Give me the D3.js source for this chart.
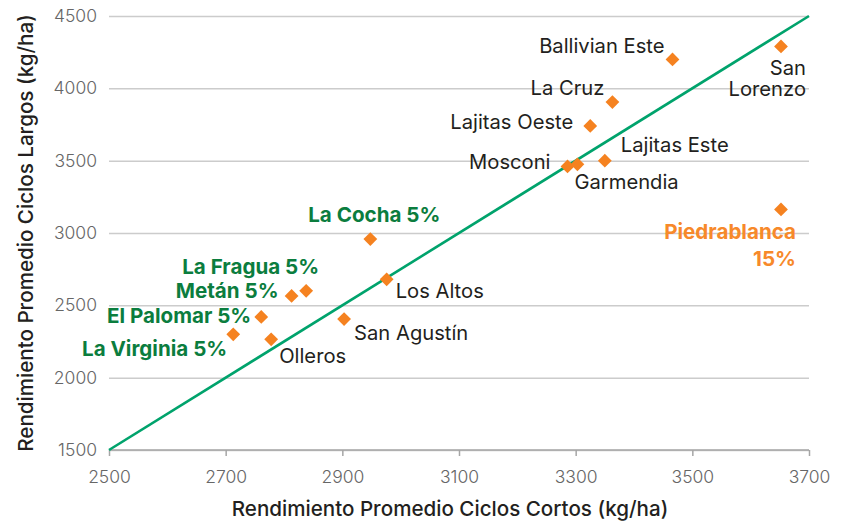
<!DOCTYPE html>
<html>
<head>
<meta charset="utf-8">
<script src="https://cdn.jsdelivr.net/npm/d3@7"></script>
<style>
  html, body { margin: 0; padding: 0; background: #ffffff; }
  svg { display: block; }
  text { font-family: Inter, "Liberation Sans", Arial, sans-serif; }
</style>
</head>
<body>
<svg id="chart" width="844" height="524"></svg>
<script>
// ---- data ----
const sites = ["Ballivian Este", "San Lorenzo", "La Cruz", "Lajitas Oeste", "Lajitas Este",
  "Mosconi", "Garmendia", "Piedrablanca", "La Cocha", "Los Altos", "San Agustín",
  "Metán", "La Fragua", "El Palomar", "La Virginia", "Olleros"];
const cortos = [3466, 3652, 3363, 3325, 3350, 3286, 3303, 3652, 2948, 2976, 2903, 2813, 2838, 2761, 2713, 2778];
const largos = [4200, 4290, 3905, 3740, 3500, 3460, 3475, 3163, 2958, 2680, 2405, 2565, 2600, 2420, 2300, 2265];
const labelLines = [["Ballivian Este"], ["San", "Lorenzo"], ["La Cruz"], ["Lajitas Oeste"], ["Lajitas Este"],
  ["Mosconi"], ["Garmendia"], ["Piedrablanca", "15%"], ["La Cocha 5%"], ["Los Altos"], ["San Agustín"],
  ["Metán 5%"], ["La Fragua 5%"], ["El Palomar 5%"], ["La Virginia 5%"], ["Olleros"]];
const labelKind = ["plain", "plain", "plain", "plain", "plain", "plain", "plain", "orange", "green", "plain", "plain",
  "green", "green", "green", "green", "plain"];
const refLine = [[2500, 1500], [3700, 4500]];
const xTicks = [2500, 2700, 2900, 3100, 3300, 3500, 3700];
const yTicks = [1500, 2000, 2500, 3000, 3500, 4000, 4500];
const xTitle = "Rendimiento Promedio Ciclos Cortos (kg/ha)";
const yTitle = "Rendimiento Promedio Ciclos Largos (kg/ha)";

// ---- label placement (pixels relative to point) ----
const labelPlace = {
  "Ballivian Este": { dx: -8, dy: -6, anchor: "end" },
  "San Lorenzo": { dx: 25, dy: 29, anchor: "end" },
  "La Cruz": { dx: -8, dy: -7, anchor: "end" },
  "Lajitas Oeste": { dx: -17, dy: 3, anchor: "end" },
  "Lajitas Este": { dx: 16, dy: -9, anchor: "start" },
  "Mosconi": { dx: -17, dy: 3, anchor: "end" },
  "Garmendia": { dx: -3, dy: 25, anchor: "start" },
  "Piedrablanca": { dx: 15, dy: 30, anchor: "end" },
  "La Cocha": { dx: 4, dy: -17, anchor: "middle" },
  "Los Altos": { dx: 9, dy: 19, anchor: "start" },
  "San Agustín": { dx: 10, dy: 21, anchor: "start" },
  "Metán": { dx: -13, dy: 2, anchor: "end" },
  "La Fragua": { dx: 13, dy: -17, anchor: "end" },
  "El Palomar": { dx: -10, dy: 6, anchor: "end" },
  "La Virginia": { dx: -6, dy: 22, anchor: "end" },
  "Olleros": { dx: 8, dy: 24, anchor: "start" }
};

(function draw() {
  const svg = d3.select("#chart");
  const W = 844, H = 524;
  const mLeft = 109, mRight = 809, mTop = 16, mBottom = 450;
  const tickFont = "Inter, 'Liberation Sans', Arial, sans-serif";

  svg.append("rect").attr("width", W).attr("height", H).attr("fill", "#ffffff");

  const x = d3.scaleLinear().domain([2500, 3700]).range([mLeft, mRight]);
  const y = d3.scaleLinear().domain([1500, 4500]).range([mBottom, mTop]);

  // horizontal gridlines + y labels
  const yAxis = d3.axisLeft(y).tickValues(yTicks).tickSize(-(mRight - mLeft)).tickPadding(12).tickFormat(d3.format("d"));
  const gy = svg.append("g").attr("transform", `translate(${mLeft},0)`).call(yAxis);
  gy.select(".domain").remove();
  gy.selectAll(".tick line").attr("stroke", "#cccccc").attr("stroke-width", 1.5);
  gy.selectAll(".tick text")
    .attr("fill", "#666666").attr("font-size", 17.5).attr("font-weight", 300).attr("font-family", tickFont);

  // bottom axis
  const xAxis = d3.axisBottom(x).tickValues(xTicks).tickSize(6).tickPadding(15).tickFormat(d3.format("d"));
  const gx = svg.append("g").attr("transform", `translate(0,${mBottom})`).call(xAxis);
  gx.select(".domain").attr("stroke", "#a6a6a6").attr("stroke-width", 1.5).attr("d", `M${mLeft},0H${mRight}`);
  gx.selectAll(".tick line").attr("stroke", "#a6a6a6").attr("stroke-width", 1.5);
  gx.selectAll(".tick text")
    .attr("fill", "#666666").attr("font-size", 17.5).attr("font-weight", 300).attr("font-family", tickFont);

  // reference line
  svg.append("path")
    .datum(refLine)
    .attr("fill", "none")
    .attr("stroke", "#00a36c")
    .attr("stroke-width", 2.6)
    .attr("d", d3.line().x(d => x(d[0])).y(d => y(d[1])));

  // points
  const pts = sites.map((s, i) => ({ site: s, cx: cortos[i], cl: largos[i], lines: labelLines[i], kind: labelKind[i] }));
  svg.append("g").selectAll("path")
    .data(pts)
    .join("path")
    .attr("d", d3.symbol().type(d3.symbolSquare).size(95))
    .attr("transform", d => `translate(${x(d.cx)},${y(d.cl)}) rotate(45)`)
    .attr("fill", "#f58220");

  // labels
  const colors = { plain: "#231f20", green: "#0b7d3e", orange: "#f7892a" };
  const lab = svg.append("g").selectAll("text")
    .data(pts)
    .join("text")
    .attr("x", d => x(d.cx) + labelPlace[d.site].dx)
    .attr("y", d => y(d.cl) + labelPlace[d.site].dy)
    .attr("text-anchor", d => labelPlace[d.site].anchor)
    .attr("fill", d => colors[d.kind])
    .attr("font-size", d => d.kind === "plain" ? 20.2 : 20.6)
    .attr("font-weight", d => d.kind === "plain" ? 400 : 700);
  lab.selectAll("tspan")
    .data(d => d.lines.map((t, j) => ({ t, j, x: x(d.cx) + labelPlace[d.site].dx, lh: d.kind === "plain" ? 21 : 27 })))
    .join("tspan")
    .attr("x", d => d.x)
    .attr("dy", d => d.j === 0 ? 0 : d.lh)
    .text(d => d.t);

  // axis titles
  svg.append("text")
    .attr("x", 450).attr("y", 516)
    .attr("text-anchor", "middle")
    .attr("font-size", 20.6).attr("font-weight", 500).attr("fill", "#231f20")
    .text(xTitle);
  svg.append("text")
    .attr("transform", `translate(33,${(mTop + mBottom) / 2}) rotate(-90)`)
    .attr("text-anchor", "middle")
    .attr("font-size", 20.6).attr("font-weight", 500).attr("fill", "#231f20")
    .text(yTitle);
})();
</script>
</body>
</html>
